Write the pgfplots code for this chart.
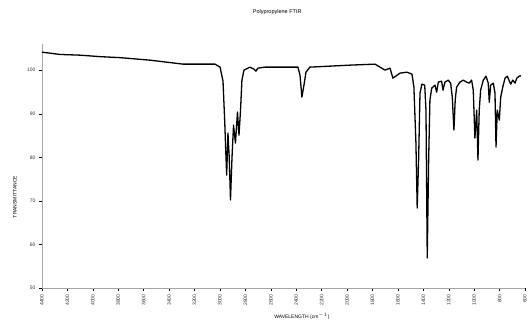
\documentclass[border=0pt]{standalone}
\usepackage{pgfplots}
\pgfplotsset{compat=1.18}
\usepackage{fontspec}
\setmainfont{Liberation Sans}
\begin{document}
\begin{tikzpicture}
\path[use as bounding box] (-42pt,-35pt) rectangle (489pt,288pt);
\begin{axis}[
  at={(0,0)}, anchor=south west,
  scale only axis, width=483pt, height=244pt,
  x dir=reverse, xmin=600, xmax=4400, ymin=50, ymax=106,
  xtick={600,800,...,4400}, ytick={50,60,...,100},
  axis x line=bottom, axis y line=left,
  axis line style={-, gray!70, line width=0.4pt},
  tick style={black, line width=0.4pt}, major tick length=3pt,
  tick align=outside,
  /pgf/number format/assume math mode=true,
  /pgf/number format/1000 sep={},
  ticklabel style={font=\fontsize{5}{5.5}\selectfont, text=black!80},
  xticklabel style={rotate=90, anchor=east},
  title={Polypropylene FTIR},
  title style={font=\fontsize{5.5}{6}\selectfont, at={(axis description cs:0.487,1)}, anchor=center, yshift=26pt},
  xlabel={WAVELENGTH (cm$^{-1}$)},
  xlabel style={font=\fontsize{5}{5.5}\selectfont, at={(axis description cs:0.538,-0.115)}, anchor=center},
  ylabel={TRANSMITTANCE},
  ylabel style={font=\fontsize{5}{5.5}\selectfont, at={(axis description cs:-0.056,0.373)}, anchor=center, rotate=0},
]
\addplot[black, line width=1.3pt, line join=round] coordinates {
(4400,104.13) (4258,103.6) (4101,103.44) (3944,103.1) (3786,102.87) (3550,102.29)
(3290,101.38) (3039,101.38) (2999,100.69) (2976,97.5) (2962,88) (2955,82) (2947,75.91)
(2937,85.55) (2927,80) (2917,70.18) (2905,80) (2893,87.38) (2878,83.25) (2862,90.37)
(2850,85.09) (2838,90.82) (2827,97.71) (2811,100) (2764,100.69) (2732,100.23)
(2717,99.77) (2701,100.46) (2646,100.69) (2386,100.69) (2370,98.85) (2355,93.81)
(2339,96.56) (2323,99.54) (2292,100.69) (2134,100.92) (1977,101.15) (1780,101.38)
(1741,100.69) (1702,100) (1662,100.46) (1639,98.16) (1584,99.31) (1529,99.54)
(1489,99.08) (1474,96.1) (1458,83.25) (1448,68.34) (1437,79.35) (1426,94.72)
(1411,96.79) (1389,96.56) (1379,90.82) (1369,56.87) (1358,79.35) (1348,93.12)
(1334,95.87) (1308,96.56) (1295,94.95) (1282,97.25) (1256,97.48) (1245,95.41)
(1230,97.25) (1204,97.71) (1185,97.02) (1172,93.81) (1159,86.24) (1149,93.12)
(1138,96.1) (1112,97.25) (1086,97.71) (1059,97.25) (1038,97.02) (1020,97.71)
(1007,95.41) (994,84.4) (980,90.82) (970,79.35) (960,90.82) (949,95.41) (928,97.71)
(907,98.62) (889,97.02) (881,92.66) (870,96.56) (849,97.02) (836,94.72) (828,82.34)
(818,90.82) (802,88.53) (791,93.81) (775,96.1) (757,98.16) (739,98.62) (723,97.48)
(712,96.79) (697,97.71) (678,97.02) (665,98.16) (645,98.62) (632,98.7)
};
\end{axis}
\end{tikzpicture}
\end{document}
